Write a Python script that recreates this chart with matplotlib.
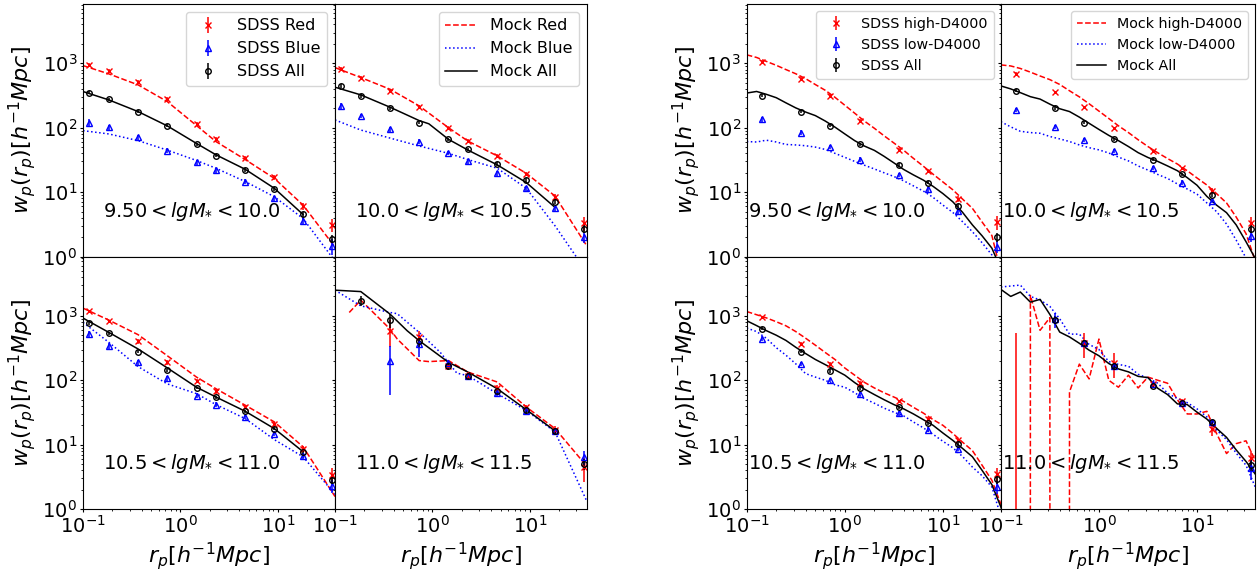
import numpy as np
import matplotlib
matplotlib.use("Agg")
import matplotlib.pyplot as plt

nan = np.nan

# ── Left block: colour split (Red / Blue) ───────────────────────────────────
rp_col = [0.116, 0.184, 0.367, 0.73, 1.46, 2.31, 4.62, 9.17, 18.1, 35.8]

sdss_red = [
    [950, 770, 508, 280, 115, 67, 34, 17, 6.0, 3.1],
    [818, 600, 377, 208, 98, 63, 36, 19.2, 8.5, 3.3],
    [1170, 818, 402, 190, 97, 67, 39, 20.8, 8.7, 3.4],
    [nan, nan, 587, 475, 169, 118, 76, 38, 17.2, 4.45],
]
sdss_red_err = [
    [70, 50, 35, 20, 9, 5, 3, 1.5, 0.8, 0.7],
    [60, 40, 25, 14, 7, 4, 2.5, 1.5, 0.9, 0.8],
    [80, 50, 30, 15, 7, 5, 3, 1.6, 1.0, 0.9],
    [nan, nan, 260, 110, 25, 15, 8, 4, 2.2, 1.8],
]
sdss_blue = [
    [120, 102, 71, 44, 29, 22, 14.6, 8.0, 3.6, 1.47],
    [218, 154, 95, 61, 41, 30, 19.6, 11.5, 5.6, 2.0],
    [522, 345, 190, 108, 58, 42, 27, 14.9, 6.7, 2.3],
    [nan, nan, 202, 366, 184, 115, 63, 33, 16.4, 6.5],
]
sdss_blue_err = [
    [18, 10, 6, 4, 2.5, 2, 1.3, 0.8, 0.5, 0.4],
    [20, 12, 8, 5, 3, 2.2, 1.5, 1.0, 0.6, 0.4],
    [60, 35, 18, 10, 5, 3.5, 2.2, 1.3, 0.7, 0.5],
    [nan, nan, 143, 140, 25, 15, 7, 4, 2, 1.6],
]
sdss_all = [
    [351, 277, 178, 108, 55, 37, 22, 11.2, 4.5, 1.9],
    [445, 312, 200, 120, 66, 46, 27.4, 15.5, 7.1, 2.7],
    [762, 541, 278, 142, 76, 55, 33, 17.8, 7.8, 2.84],
    [nan, 1706, 858, 402, 169, 115, 68, 34, 16.4, 5.0],
]
sdss_all_err = [
    [20, 15, 10, 6, 3, 2, 1.3, 0.7, 0.4, 0.3],
    [25, 18, 11, 7, 4, 2.5, 1.6, 1.0, 0.6, 0.4],
    [40, 28, 15, 8, 4, 3, 1.8, 1.0, 0.6, 0.4],
    [nan, 300, 200, 80, 20, 12, 6, 3, 1.5, 1.0],
]

rp_mock_col = [0.1, 0.14, 0.184, 0.215, 0.367, 0.435, 0.55, 0.73, 0.918,
               1.2, 1.46, 1.78, 2.31, 4.62, 9.17, 18.1, 38.5]
mock_red = [
    [920, nan, 684, nan, 462, nan, nan, 255, nan, nan, 108, nan, 61, 32, 16.4, 6.3, 1.4],
    [857, nan, 600, nan, 395, nan, nan, 218, nan, nan, 100, nan, 62, 36.5, 19.6, 8.7, 1.45],
    [1315, nan, 858, nan, 510, nan, nan, 241, nan, nan, 112, nan, 74, 41, 22.6, 9.3, 1.57],
    [nan, 1127, 1750, nan, 623, 437, nan, 202, 195, nan, 202, nan, 134, 94, 38.5, 17.8, 4.6],
]
mock_blue = [
    [90, nan, 80, nan, 63, nan, nan, 45, nan, nan, 31, nan, 23.5, 14.6, 8.5, 3.9, 0.85],
    [132, nan, 92, nan, 69, nan, nan, 52, nan, nan, 40, nan, 32, 23.5, 11.5, 3.0, 0.57],
    [790, nan, 388, nan, 163, nan, nan, 88, nan, nan, 62, nan, 42, 25.4, 12, 6.5, 1.7],
    [2500, nan, 1428, nan, 1127, 1080, nan, 553, nan, 272, nan, 129, 118, 62, 34, 15.8, 1.31],
]
mock_all = [
    [364, nan, 270, nan, 178, nan, nan, 107, nan, nan, 57, nan, 38, 22.6, 11.5, 4.5, nan],
    [425, nan, 323, nan, 208, nan, nan, 129, 115, nan, 66, nan, 45, 26.5, 14.1, 5.8, nan],
    [922, nan, 553, nan, 306, nan, nan, 156, nan, nan, 78, nan, 55, 33, 17.8, 7.8, nan],
    [2500, nan, 2378, nan, 1063, nan, 587, 412, nan, nan, 190, nan, 134, 74, 35, 16.4, nan],
]

# ── Right block: D4000 split (high / low) ───────────────────────────────────
rp_d4 = [0.142, 0.355, 0.71, 1.42, 3.55, 7.1, 14.2, 35.5]

sdss_high = [
    [1063, 572, 312, 128, 45, 21.6, 7.85, 3.4],
    [684, 355, 208, 98, 43, 23.5, 10.6, 3.3],
    [942, 371, 180, 92, 47, 25, 11.9, 3.5],
    [0.5, nan, 380, 187, 87, 47, 17.6, 6.3],
]
sdss_high_err = [
    [60, 35, 18, 8, 3, 1.5, 0.8, 0.8],
    [40, 22, 12, 6, 3, 1.5, 0.9, 0.8],
    [55, 25, 12, 6, 3, 1.6, 1.0, 0.8],
    [540, nan, 160, 80, 8, 5, 4, 1.8],
]
sdss_low = [
    [135, 84, 50, 32, 18.5, 11.1, 5.1, 1.43],
    [189, 102, 65, 43, 23.5, 14.1, 7.4, 2.1],
    [443, 180, 101, 61, 30.7, 17.2, 8.7, 2.2],
    [nan, 888, 380, 166, 89, 45, 22.9, 4.4],
]
sdss_low_err = [
    [12, 7, 4, 2.5, 1.5, 0.9, 0.5, 0.3],
    [15, 8, 5, 3, 1.8, 1.1, 0.6, 0.4],
    [40, 15, 8, 5, 2.5, 1.3, 0.7, 0.5],
    [nan, 230, 40, 15, 6, 3, 1.6, 1.6],
]
sdss_all_d4 = [
    [315, 178, 107, 55, 26.5, 14.1, 6.2, 2.0],
    [377, 200, 120, 66, 32, 19, 9.1, 2.7],
    [631, 276, 139, 75, 38, 21.5, 10.4, 2.9],
    [nan, 868, 380, 166, 82, 44, 22.3, 4.8],
]
sdss_all_d4_err = [
    [18, 10, 6, 3, 1.5, 0.8, 0.4, 0.3],
    [20, 11, 7, 4, 2, 1.1, 0.6, 0.4],
    [35, 15, 8, 4, 2, 1.2, 0.7, 0.4],
    [nan, 120, 40, 15, 5, 2.5, 1.3, 0.9],
]

rp_mock_d4 = [0.1, 0.126, 0.158, 0.2, 0.251, 0.316, 0.398, 0.501, 0.631, 0.794,
              1.0, 1.26, 1.58, 2.0, 2.51, 3.16, 3.98, 5.01, 6.31, 7.94,
              10.0, 12.6, 15.8, 20.0, 25.1, 31.6, 39.8]
mock_high = [
    [1350, 1230, 1070, 929, 798, 687, 577, 467, 381, 296, 223, 168, 127, 98,
     75, 58, 44.6, 33.4, 25.3, 19, 14.4, 10.9, 7.85, 5.6, 3.44, 2.12, 0.5],
    [943, 908, 830, 728, 635, 557, 469, 374, 301, 235, 181, 139, 107, 84,
     65, 51, 40.8, 33.2, 27.3, 21.5, 16.6, 12.9, 9.5, 6.8, 4.1, 2.27, 0.8],
    [1166, 1040, 930, 810, 700, 570, 450, 350, 270, 210, 155, 120, 93, 76,
     64, 55, 47, 38, 31, 24.5, 20, 15, 11, 8.1, 4.8, 2.8, 1.1],
    [0, 0, 0, 2076, 596, 935, 0, 66, 178, 105, 436, 100, 78, 120,
     76, 112, 100, 90, 50, 30, 30, 33, 15, 7.3, 10.4, 11.5, 5.4],
]
mock_low = [
    [61, 60, 64, 60, 55, 54, 52.5, 50, 46, 40, 34.7, 30, 26.2, 22.9,
     20, 17.5, 15, 12.5, 10.4, 8.3, 6.3, 4.85, 3.5, 2.43, 1.64, 1.06, 0.5],
    [124, 103, 88, 84, 82, 73, 67, 61, 54, 49, 45.3, 40.5, 35, 30.5,
     25.5, 22, 18.8, 16.3, 13.4, 11.2, 9.3, 6.8, 5.0, 3.2, 1.8, 0.95, 0.5],
    [646, 570, 450, 320, 245, 180, 127, 112, 100, 85, 78, 64, 52, 44,
     37, 32, 28, 22.5, 18.3, 14.5, 11.3, 9.0, 6.6, 4.5, 3.3, 2.2, 0.7],
    [2800, 2900, 3000, 2000, 1760, 1400, 900, 520, 520, 360, 300, 195, 176, 165,
     124, 108, 90, 63, 52, 45, 36, 27, 17, 12, 7.4, 4.8, 2.1],
]
mock_all_d4 = [
    [345, 365, 330, 292, 243, 203, 175, 154, 127, 102, 80, 63, 52, 44.5,
     36, 28.5, 22.5, 18.5, 15.4, 12.3, 9.5, 7.1, 4.9, 3.1, 2.1, 1.35, 0.6],
    [445, 400, 350, 303, 278, 232, 197, 178, 146, 117, 94, 76, 63, 51,
     41, 34.5, 30, 25.5, 21.5, 16.8, 12.8, 8.6, 6.3, 4.8, 3.1, 1.7, 0.9],
    [838, 705, 590, 500, 415, 325, 260, 210, 175, 145, 120, 92, 73, 60,
     50, 42, 36, 30, 24.5, 20, 15.2, 11.7, 8.8, 6.5, 4.0, 2.4, 1.0],
    [2570, 2000, 2340, 1630, 1800, 1050, 560, 470, 375, 293, 240, 182, 150, 135,
     115, 110, 75, 60, 43, 42, 32, 25, 18, 13, 8.3, 5.5, 3.4],
]

mass_bins = [r"$9.50<lgM_{*}<10.0$", r"$10.0<lgM_{*}<10.5$",
             r"$10.5<lgM_{*}<11.0$", r"$11.0<lgM_{*}<11.5$"]


def mock_line(ax, x, y, style, label):
    x = np.asarray(x, float)
    y = np.asarray(y, float)
    ok = ~np.isnan(y)
    ax.plot(x[ok], y[ok], style, lw=1.1, label=label)


def draw_block(gs, rp, rp_m, reds, reds_e, blues, blues_e, alls, alls_e,
               m_red, m_blue, m_all, names, text_x, leg_fs, xmax):
    axes = gs.subplots(sharex=True, sharey=True)
    for k, ax in enumerate(axes.flat):
        mock_line(ax, rp_m, m_red[k], "r--", names[3])
        mock_line(ax, rp_m, m_blue[k], "b:", names[4])
        mock_line(ax, rp_m, m_all[k], "k-", names[5])
        ax.errorbar(rp, reds[k], yerr=reds_e[k], fmt="x", color="r", ms=5,
                    elinewidth=1.1, capsize=0, label=names[0])
        ax.errorbar(rp, blues[k], yerr=blues_e[k], fmt="^", color="b", ms=4,
                    mfc="none", elinewidth=1.1, capsize=0, label=names[1])
        ax.errorbar(rp, alls[k], yerr=alls_e[k], fmt="o", color="k", ms=4,
                    mfc="none", elinewidth=1.1, capsize=0, label=names[2])
        ax.set_xscale("log")
        ax.set_yscale("log")
        ax.set_xlim(0.1, xmax)
        ax.set_ylim(1, 8300)
        ax.tick_params(which="major", labelsize=14, length=2.2, pad=2)
        ax.tick_params(which="minor", length=1.3)
        ax.text(text_x, 0.18, mass_bins[k], transform=ax.transAxes,
                fontsize=14, va="center", ha="left")
    for ax in axes[:, 0]:
        ax.set_ylabel(r"$w_p(r_p)[h^{-1}Mpc]$", fontsize=16, labelpad=3)
    for ax in axes[1, :]:
        ax.set_xlabel(r"$r_p[h^{-1}Mpc]$", fontsize=16, labelpad=2)
    h, l = axes[0, 0].get_legend_handles_labels()
    axes[0, 0].legend(h[3:], l[3:], loc="upper right", fontsize=leg_fs)
    axes[0, 1].legend(h[:3], l[:3], loc="upper right", fontsize=leg_fs)
    return axes


fig = plt.figure(figsize=(12.58, 5.75), dpi=100)

gs_left = fig.add_gridspec(2, 2, left=0.066, right=0.4666, top=0.993,
                           bottom=0.1145, wspace=0, hspace=0)
gs_right = fig.add_gridspec(2, 2, left=0.5936, right=0.9976, top=0.993,
                            bottom=0.1145, wspace=0, hspace=0)

draw_block(gs_left, rp_col, rp_mock_col, sdss_red, sdss_red_err,
           sdss_blue, sdss_blue_err, sdss_all, sdss_all_err,
           mock_red, mock_blue, mock_all,
           ["SDSS Red", "SDSS Blue", "SDSS All", "Mock Red", "Mock Blue", "Mock All"],
           0.08, 11.5, 38.5)

draw_block(gs_right, rp_d4, rp_mock_d4, sdss_high, sdss_high_err,
           sdss_low, sdss_low_err, sdss_all_d4, sdss_all_d4_err,
           mock_high, mock_low, mock_all_d4,
           ["SDSS high-D4000", "SDSS low-D4000", "SDSS All",
            "Mock high-D4000", "Mock low-D4000", "Mock All"],
           0.005, 10.3, 39.0)

fig.savefig("out.png", dpi=100)
